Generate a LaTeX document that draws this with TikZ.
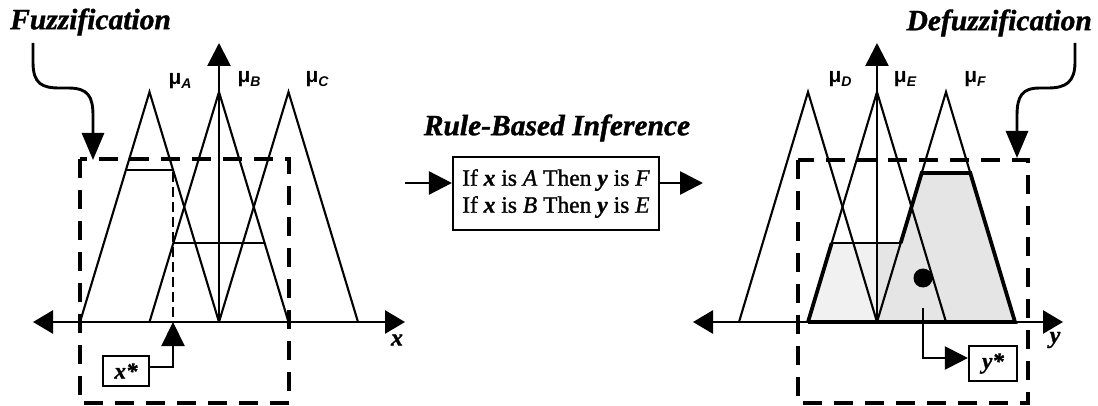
\documentclass[tikz,border=0pt]{standalone}
\usepackage{fontspec}
\setmainfont{Liberation Serif}
\newfontfamily\sansf{Liberation Sans}
\newfontfamily\heavyserif[FakeBold=1.2]{Liberation Serif}
\usetikzlibrary{arrows.meta,calc}
\begin{document}
\begin{tikzpicture}[x=1pt,y=-1pt,
  tri/.style={line width=2.1pt},
  axisline/.style={line width=2.7pt},
  dbox/.style={line width=3.1pt, dash pattern=on 19pt off 12pt},
  fdash/.style={line width=2.3pt, dash pattern=on 10pt off 5pt},
  bigtip/.style={-{Triangle[length=23pt,width=23pt]}},
  bothtip/.style={{Triangle[length=20pt,width=23pt]}-{Triangle[length=20pt,width=23pt]}},
  curvearrow/.style={line width=2.9pt,-{Triangle[length=27pt,width=22pt]}},
  title/.style={font=\heavyserif\fontsize{29.5}{32}\selectfont\bfseries\itshape, inner sep=0pt},
  mulab/.style={font=\sansf\fontsize{21}{22}\selectfont\bfseries, inner sep=0pt},
  cutline/.style={line width=2.8pt},
  aggr/.style={line width=3.8pt, line join=miter},
  valbox/.style={draw, line width=2.2pt, inner sep=0pt, font=\heavyserif\fontsize{23}{24}\selectfont\bfseries\itshape},
  axlab/.style={font=\heavyserif\fontsize{24}{26}\selectfont\bfseries\itshape, inner sep=0pt},
]
\useasboundingbox (0,0) rectangle (1098,406);

% ---------- titles ----------
\node[title, anchor=west] (fuz) at (10,22) {Fuzzification};
\node[title, anchor=east] (defuz) at (1092,23) {Defuzzification};
\node[title] (rbi) at (557,128) {Rule-Based Inference};

% ---------- left panel ----------
\draw[tri] (80,322) -- (149.5,92) -- (219,322);
\draw[tri] (149.5,322) -- (219,92) -- (288.5,322);
\draw[tri] (219,322) -- (288.5,92) -- (358,322);
\draw[cutline] (126,170) -- (173,170);
\draw[cutline] (173,243) -- (265,243);
\draw[fdash] (173,172) -- (173,320);
\draw[dbox] (80,159) rectangle (289,403);
\coordinate (xl) at (33,322);
\coordinate (xr) at (405,322);
\draw[axisline, bothtip] (xl) -- (xr);
\coordinate (mo) at (219,322);
\coordinate (mt) at (219,43);
\draw[axisline, bigtip] (mo) -- (mt);
\node[mulab] (muA) at (180,81) {μ\raisebox{-4pt}{\fontsize{14}{15}\selectfont\bfseries\itshape A}};
\node[mulab] (muB) at (249,79) {μ\raisebox{-4pt}{\fontsize{14}{15}\selectfont\bfseries\itshape B}};
\node[mulab] (muC) at (317,79) {μ\raisebox{-4pt}{\fontsize{14}{15}\selectfont\bfseries\itshape C}};
\node[axlab] (xlab) at (397,340) {x};
\node[valbox, minimum width=46pt, minimum height=30pt] (xs) at (126,371) {x*};
\coordinate (xsp) at (173,322);
\draw[line width=2.2pt, -{Triangle[length=24pt,width=23pt]}] (xs.east |- 0,367) -| (xsp);
\coordinate (f0) at (33,43);
\coordinate (f1) at (93,160);
\draw[curvearrow] (f0) -- (33,62) .. controls (33,84) and (42,88) .. (60,88)
  -- (68,88) .. controls (88,88) and (93,96) .. (93,116) -- (f1);

% ---------- middle ----------
\node[draw, line width=2.2pt, minimum width=206pt, minimum height=73pt, inner sep=0pt,
      align=left, font=\heavyserif\fontsize{23.5}{27}\selectfont] (rule) at (556,193.5)
  {If \textbf{\textit{x}} is \textit{A} Then \textbf{\textit{y}} is \textit{F}\\
   If \textbf{\textit{x}} is \textit{B} Then \textbf{\textit{y}} is \textit{E}};
\coordinate (rin) at (405,183);
\coordinate (rout) at (703,183);
\draw[axisline, bigtip] (rin) -- (rin -| rule.west);
\draw[axisline, bigtip] (rule.east |- rout) -- (rout);

% ---------- right panel ----------
\fill[gray!20] (808,322) -- (831.7,243) -- (900.7,243) -- (921.7,173) -- (970.3,173) -- (1015,322) -- cycle;
\fill[gray!11] (808,322) -- (831.7,243) -- (877,243) -- (877,322) -- cycle;
\draw[tri] (739,322) -- (808,92) -- (877,322);
\draw[tri] (808,322) -- (877,92) -- (946,322);
\draw[tri] (877,322) -- (946,92) -- (1015,322);
\draw[aggr] (808,322) -- (831.7,243);
\draw[cutline] (831.7,243) -- (900.7,243);
\draw[aggr] (900.7,243) -- (921.7,173) -- (970.3,173) -- (1015,322) -- (808,322);
\draw[dbox] (798,160) rectangle (1028,403);
\coordinate (yl) at (693,322);
\coordinate (yr) at (1063,322);
\draw[axisline, bothtip] (yl) -- (yr);
\coordinate (no) at (877,322);
\coordinate (nt) at (877,43);
\draw[axisline, bigtip] (no) -- (nt);
\node[mulab] (muD) at (840,79) {μ\raisebox{-4pt}{\fontsize{14}{15}\selectfont\bfseries\itshape D}};
\node[mulab] (muE) at (905,79) {μ\raisebox{-4pt}{\fontsize{14}{15}\selectfont\bfseries\itshape E}};
\node[mulab] (muF) at (975,79) {μ\raisebox{-4pt}{\fontsize{14}{15}\selectfont\bfseries\itshape F}};
\node[axlab] (ylab) at (1055,340) {y};
\node[circle, fill=black, minimum size=19pt, inner sep=0pt] (cg) at (923,278) {};
\node[valbox, minimum width=48pt, minimum height=35pt] (ys) at (993,363.5) {y*};
\coordinate (cgs) at (923,308);
\draw[line width=2.2pt, -{Triangle[length=23pt,width=23pt]}] (cgs) |- (ys.west |- 0,358);
\coordinate (d0) at (1075,43);
\coordinate (d1) at (1017,158);
\draw[curvearrow] (d0) -- (1075,62) .. controls (1075,82) and (1066,88) .. (1048,88)
  -- (1040,88) .. controls (1022,88) and (1017,96) .. (1017,116) -- (d1);
\end{tikzpicture}
\end{document}
